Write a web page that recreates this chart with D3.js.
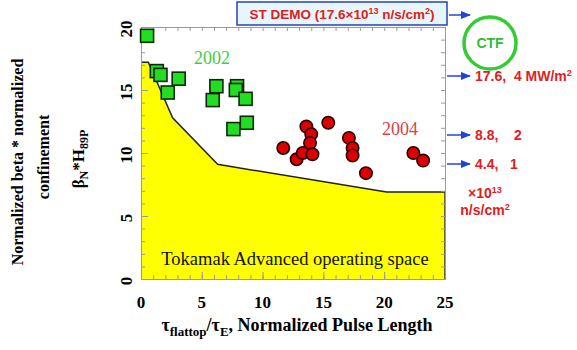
<!DOCTYPE html>
<html>
<head>
<meta charset="utf-8">
<script src="https://cdn.jsdelivr.net/npm/d3@7"></script>
<style>
  body { margin: 0; background: #fff; }
  svg { display: block; }
</style>
</head>
<body>
<div id="chart"></div>
<script>
/* DATA */
const xTicks = [0, 5, 10, 15, 20, 25];
const yTicks = [0, 5, 10, 15, 20];

// boundary of the yellow "tokamak" region (pulse length, beta*H)
const boundaryX = [0, 0.6, 2.6, 6.3, 20.2, 25];
const boundaryY = [17.2, 17.2, 12.8, 9.1, 6.9, 6.9];

// 2002 shots (green squares)
const x2002 = [0.5, 1.3, 1.6, 2.2, 3.1, 6.2, 5.9, 7.9, 7.8, 8.6, 7.6, 8.7];
const y2002 = [19.3, 16.5, 16.2, 14.8, 15.9, 15.3, 14.2, 15.3, 15.0, 14.3, 11.9, 12.4];

// 2004 shots (red circles)
const x2004 = [11.7, 12.8, 13.3, 13.6, 14.0, 13.9, 14.1, 15.4, 17.1, 17.4, 17.4, 18.5, 22.4, 23.2];
const y2004 = [10.4, 9.5, 10.0, 12.1, 11.5, 10.8, 9.9, 12.4, 11.2, 10.4, 9.8, 8.4, 10.0, 9.4];

// right-hand neutron flux / wall load markers
const fluxLabels = ["17.6,  4 MW/m", "8.8,    2", "4.4,   1"];
const fluxY = [76, 135, 164];

/* LAYOUT */
const width = 577, height = 350;
const margin = { top: 27, right: 132, bottom: 71, left: 141 };

const svg = d3.select("#chart").append("svg")
  .attr("width", width)
  .attr("height", height);

const x = d3.scaleLinear().domain([0, 25]).range([margin.left, width - margin.right]);
const y = d3.scaleLinear().domain([0, 20]).range([height - margin.bottom, margin.top]);

const serif = "'Liberation Serif', 'Times New Roman', serif";
const sans = "'Liberation Sans', Arial, sans-serif";
const grey = "#9a9a9a";

/* yellow operating space */
const area = d3.area()
  .x((d, i) => x(boundaryX[i]))
  .y0(y(0))
  .y1((d, i) => y(d));

svg.append("path")
  .attr("d", area(boundaryY))
  .attr("fill", "#ffff00")
  .attr("stroke", "none");

svg.append("path")
  .attr("d", d3.line().x((d, i) => x(boundaryX[i])).y(d => y(d))(boundaryY))
  .attr("fill", "none")
  .attr("stroke", "#222")
  .attr("stroke-width", 1.5);

// right edge of yellow region
svg.append("line")
  .attr("x1", x(25)).attr("x2", x(25))
  .attr("y1", y(boundaryY[boundaryY.length - 1])).attr("y2", y(0))
  .attr("stroke", "#333").attr("stroke-width", 1.5);

/* AXES (frame with inward ticks) */
const minorX = d3.range(0, 26, 1);
const minorY = d3.range(0, 21, 1);

function styleAxis(g) {
  g.selectAll("path").attr("stroke", grey);
  g.selectAll("line").attr("stroke", grey);
  g.selectAll("text").remove();
}

svg.append("g").attr("transform", `translate(0,${y(0)})`)
  .call(d3.axisBottom(x).tickValues(minorX).tickSize(-4).tickSizeOuter(0)).call(styleAxis);
svg.append("g").attr("transform", `translate(0,${y(20)})`)
  .call(d3.axisTop(x).tickValues(minorX).tickSize(-4).tickSizeOuter(0)).call(styleAxis);
svg.append("g").attr("transform", `translate(${x(0)},0)`)
  .call(d3.axisLeft(y).tickValues(minorY).tickSize(-4).tickSizeOuter(0)).call(styleAxis);
svg.append("g").attr("transform", `translate(${x(25)},0)`)
  .call(d3.axisRight(y).tickValues(minorY).tickSize(-4).tickSizeOuter(0)).call(styleAxis);

// major ticks slightly longer
svg.append("g").attr("transform", `translate(${x(0)},0)`)
  .call(d3.axisLeft(y).tickValues(yTicks).tickSize(-7).tickSizeOuter(0)).call(styleAxis);
svg.append("g").attr("transform", `translate(0,${y(0)})`)
  .call(d3.axisBottom(x).tickValues(xTicks).tickSize(-7).tickSizeOuter(0)).call(styleAxis);

/* tick labels */
svg.selectAll(".xlab")
  .data(xTicks)
  .join("text")
  .attr("class", "xlab")
  .attr("x", d => x(d))
  .attr("y", y(0) + 29)
  .attr("text-anchor", "middle")
  .style("font-family", serif)
  .style("font-weight", "bold")
  .style("font-size", "17px")
  .text(d => d);

svg.selectAll(".ylab")
  .data(yTicks)
  .join("text")
  .attr("class", "ylab")
  .attr("transform", d => `translate(${x(0) - 9},${y(d) + 2}) rotate(-90)`)
  .attr("text-anchor", "middle")
  .style("font-family", serif)
  .style("font-weight", "bold")
  .style("font-size", "17px")
  .text(d => d);

/* axis titles */
const xt = svg.append("text")
  .attr("x", 297)
  .attr("y", 331)
  .attr("text-anchor", "middle")
  .style("font-family", serif)
  .style("font-weight", "bold")
  .style("font-size", "18px");
xt.append("tspan").text("τ");
xt.append("tspan").attr("dy", 5).style("font-size", "13px").text("flattop");
xt.append("tspan").attr("dy", -5).text("/τ");
xt.append("tspan").attr("dy", 5).style("font-size", "13px").text("E");
xt.append("tspan").attr("dy", -5).text(", Normalized Pulse Length");

const yt = svg.append("g")
  .attr("transform", "translate(0,162) rotate(-90)")
  .style("font-family", serif)
  .style("font-weight", "bold")
  .style("font-size", "16px")
  .attr("text-anchor", "middle");
yt.append("text").attr("y", 23).text("Normalized beta * normalized");
yt.append("text").attr("x", 5).attr("y", 49).text("confinement");
const yb = yt.append("text").attr("x", 3).attr("y", 84).style("font-size", "17px");
yb.append("tspan").text("β");
yb.append("tspan").attr("dy", 4).style("font-size", "12px").text("N");
yb.append("tspan").attr("dy", -4).text("*H");
yb.append("tspan").attr("dy", 4).style("font-size", "12px").text("89P");

/* region label */
svg.append("text")
  .attr("x", 295)
  .attr("y", 265)
  .attr("text-anchor", "middle")
  .style("font-family", serif)
  .style("font-size", "18.5px")
  .attr("fill", "#111")
  .text("Tokamak Advanced operating space");

/* data points */
const s = 13;
svg.selectAll(".sq")
  .data(x2002)
  .join("rect")
  .attr("class", "sq")
  .attr("x", d => x(d) - s / 2)
  .attr("y", (d, i) => y(y2002[i]) - s / 2)
  .attr("width", s)
  .attr("height", s)
  .attr("fill", "#22dd22")
  .attr("stroke", "#0a2a0a")
  .attr("stroke-width", 1.6);

svg.selectAll(".dot")
  .data(x2004)
  .join("circle")
  .attr("class", "dot")
  .attr("cx", d => x(d))
  .attr("cy", (d, i) => y(y2004[i]))
  .attr("r", 6.2)
  .attr("fill", "#dd0000")
  .attr("stroke", "#2a0000")
  .attr("stroke-width", 1.6);

/* year annotations */
svg.append("text")
  .attr("x", 212).attr("y", 64)
  .attr("text-anchor", "middle")
  .style("font-family", serif)
  .style("font-size", "18px")
  .attr("fill", "#44cc44")
  .text("2002");

svg.append("text")
  .attr("x", 400).attr("y", 135)
  .attr("text-anchor", "middle")
  .style("font-family", serif)
  .style("font-size", "18px")
  .attr("fill", "#e04040")
  .text("2004");

/* ST DEMO box */
svg.append("rect")
  .attr("x", 237).attr("y", 2)
  .attr("width", 210).attr("height", 23)
  .attr("fill", "#e6f6fa")
  .attr("stroke", "#2244bb")
  .attr("stroke-width", 1.5);

const st = svg.append("text")
  .attr("x", 342).attr("y", 18.5)
  .attr("text-anchor", "middle")
  .style("font-family", sans)
  .style("font-weight", "bold")
  .style("font-size", "13.5px")
  .attr("fill", "#e02020");
st.append("tspan").text("ST DEMO (17.6×10");
st.append("tspan").attr("dy", -5).style("font-size", "9px").text("13");
st.append("tspan").attr("dy", 5).text(" n/s/cm");
st.append("tspan").attr("dy", -5).style("font-size", "9px").text("2");
st.append("tspan").attr("dy", 5).text(")");

/* arrows */
svg.append("defs").append("marker")
  .attr("id", "ah")
  .attr("viewBox", "0 0 10 10")
  .attr("refX", 9).attr("refY", 5)
  .attr("markerWidth", 7).attr("markerHeight", 7)
  .attr("orient", "auto")
  .append("path")
  .attr("d", "M0,1 L10,5 L0,9 Z")
  .attr("fill", "#2244dd");

const arrowYs = [15].concat(fluxY);
svg.selectAll(".arr")
  .data(arrowYs)
  .join("line")
  .attr("class", "arr")
  .attr("x1", (d, i) => i === 0 ? 449 : 447)
  .attr("x2", 470)
  .attr("y1", d => d).attr("y2", d => d)
  .attr("stroke", "#2244dd")
  .attr("stroke-width", 1.5)
  .attr("marker-end", "url(#ah)");

/* CTF circle */
svg.append("circle")
  .attr("cx", 490).attr("cy", 43).attr("r", 26)
  .attr("fill", "none")
  .attr("stroke", "#33cc33")
  .attr("stroke-width", 3.5);
svg.append("text")
  .attr("x", 490).attr("y", 48)
  .attr("text-anchor", "middle")
  .style("font-family", sans)
  .style("font-weight", "bold")
  .style("font-size", "14px")
  .attr("fill", "#33bb33")
  .text("CTF");

/* flux labels */
const fl = svg.selectAll(".flux")
  .data(fluxLabels)
  .join("text")
  .attr("class", "flux")
  .attr("x", 475)
  .attr("y", (d, i) => fluxY[i] + 5)
  .style("font-family", sans)
  .style("font-weight", "bold")
  .style("font-size", "14px")
  .attr("fill", "#e02020")
  .attr("xml:space", "preserve")
  .style("white-space", "pre")
  .text(d => d);
fl.filter((d, i) => i === 0)
  .append("tspan").attr("dy", -5).style("font-size", "9px").text("2");

const un = svg.append("g")
  .style("font-family", sans)
  .style("font-weight", "bold")
  .style("font-size", "14px")
  .attr("fill", "#e02020")
  .attr("text-anchor", "middle");
const u1 = un.append("text").attr("x", 485).attr("y", 198);
u1.append("tspan").text("×10");
u1.append("tspan").attr("dy", -5).style("font-size", "9px").text("13");
const u2 = un.append("text").attr("x", 485).attr("y", 215);
u2.append("tspan").text("n/s/cm");
u2.append("tspan").attr("dy", -5).style("font-size", "9px").text("2");
</script>
</body>
</html>
